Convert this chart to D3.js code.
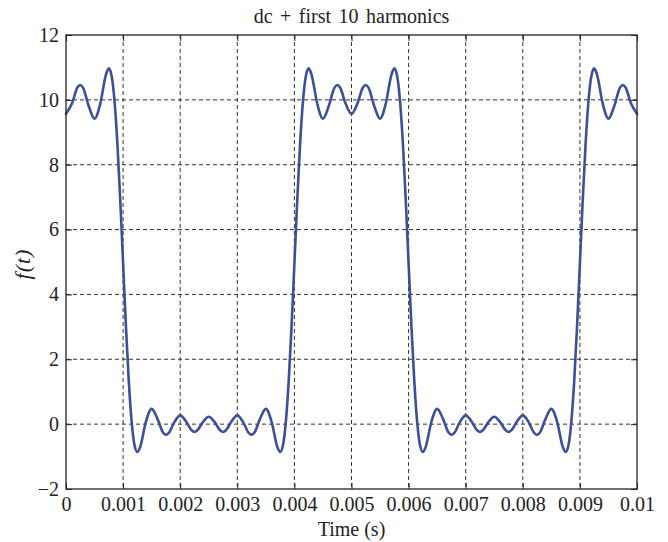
<!DOCTYPE html>
<html>
<head>
<meta charset="utf-8">
<script src="https://cdn.jsdelivr.net/npm/d3@7/dist/d3.min.js"></script>
<style>
  html, body { margin: 0; padding: 0; background: #fff; }
  svg { display: block; }
  text { font-family: "Liberation Serif", "Times New Roman", serif; fill: #222; }
</style>
</head>
<body>
<svg id="chart" width="668" height="542"></svg>
<script>
// ---- data (time in milliseconds, f(t) values) ----
const timeMs = [
  0, 0.1, 0.2, 0.25, 0.3, 0.4, 0.5, 0.6, 0.7, 0.75, 0.8, 0.85, 0.9, 0.95, 1.0, 1.05, 1.1, 1.15, 1.2, 1.25, 1.3, 1.4, 1.5, 1.6, 1.7, 1.75, 1.8, 1.9, 2.0, 2.1, 2.2, 2.25, 2.3, 2.4, 2.5,
  2.6, 2.7, 2.75, 2.8, 2.9, 3.0, 3.1, 3.2, 3.25, 3.3, 3.4, 3.5, 3.6, 3.7, 3.75, 3.8, 3.85, 3.9, 3.95, 4.0, 4.05, 4.1, 4.15, 4.2, 4.25, 4.3, 4.4, 4.5, 4.6, 4.7, 4.75, 4.8, 4.9, 5.0,
  5.1, 5.2, 5.25, 5.3, 5.4, 5.5, 5.6, 5.7, 5.75, 5.8, 5.85, 5.9, 5.95, 6.0, 6.05, 6.1, 6.15, 6.2, 6.25, 6.3, 6.4, 6.5, 6.6, 6.7, 6.75, 6.8, 6.9, 7.0, 7.1, 7.2, 7.25, 7.3, 7.4, 7.5,
  7.6, 7.7, 7.75, 7.8, 7.9, 8.0, 8.1, 8.2, 8.25, 8.3, 8.4, 8.5, 8.6, 8.7, 8.75, 8.8, 8.85, 8.9, 8.95, 9.0, 9.05, 9.1, 9.15, 9.2, 9.25, 9.3, 9.4, 9.5, 9.6, 9.7, 9.75, 9.8, 9.9, 10.0
];
const fValues = [
  9.57, 9.87, 10.38, 10.46, 10.37, 9.80, 9.42, 9.88, 10.78, 10.97, 10.73, 9.96, 8.65, 6.92, 4.95, 3.00, 1.32, 0.07, -0.65, -0.86, -0.70, 0.08, 0.47, 0.17, -0.26, -0.33, -0.27, 0.07, 0.27, 0.09, -0.19, -0.24, -0.19, 0.07, 0.23,
  0.07, -0.19, -0.24, -0.19, 0.09, 0.27, 0.07, -0.27, -0.33, -0.26, 0.17, 0.47, 0.08, -0.70, -0.86, -0.65, 0.07, 1.32, 3.00, 4.95, 6.92, 8.65, 9.96, 10.73, 10.97, 10.78, 9.88, 9.42, 9.80, 10.37, 10.46, 10.38, 9.87, 9.57,
  9.87, 10.38, 10.46, 10.37, 9.80, 9.42, 9.88, 10.78, 10.97, 10.73, 9.96, 8.65, 6.92, 4.95, 3.00, 1.32, 0.07, -0.65, -0.86, -0.70, 0.08, 0.47, 0.17, -0.26, -0.33, -0.27, 0.07, 0.27, 0.09, -0.19, -0.24, -0.19, 0.07, 0.23,
  0.07, -0.19, -0.24, -0.19, 0.09, 0.27, 0.07, -0.27, -0.33, -0.26, 0.17, 0.47, 0.08, -0.70, -0.86, -0.65, 0.07, 1.32, 3.00, 4.95, 6.92, 8.65, 9.96, 10.73, 10.97, 10.78, 9.88, 9.42, 9.80, 10.37, 10.46, 10.38, 9.87, 9.57
];
const xTickValues = [0, 1, 2, 3, 4, 5, 6, 7, 8, 9, 10];
const xTickLabels = ["0", "0.001", "0.002", "0.003", "0.004", "0.005", "0.006", "0.007", "0.008", "0.009", "0.01"];
const yTickValues = [-2, 0, 2, 4, 6, 8, 10, 12];
const yTickLabels = ["\u22122", "0", "2", "4", "6", "8", "10", "12"];
const titleText = "dc + first 10 harmonics";
const xLabelText = "Time (s)";
const yLabelText = "f(t)";

// ---- layout ----
const W = 668, H = 542;
const margin = { top: 35, right: 31, bottom: 53, left: 66 };
const iw = W - margin.left - margin.right;
const ih = H - margin.top - margin.bottom;

const svg = d3.select("#chart");
const g = svg.append("g").attr("transform", `translate(${margin.left},${margin.top})`);

const x = d3.scaleLinear().domain([0, 10]).range([0, iw]);
const y = d3.scaleLinear().domain([-2, 12]).range([ih, 0]);

// grid
const gridColor = "#333";
g.append("g").selectAll("line").data(xTickValues.slice(1, -1)).join("line")
  .attr("x1", d => x(d)).attr("x2", d => x(d))
  .attr("y1", 0).attr("y2", ih)
  .attr("stroke", gridColor).attr("stroke-width", 1).attr("stroke-dasharray", "4,3");
g.append("g").selectAll("line").data(yTickValues.slice(1, -1)).join("line")
  .attr("y1", d => y(d)).attr("y2", d => y(d))
  .attr("x1", 0).attr("x2", iw)
  .attr("stroke", gridColor).attr("stroke-width", 1).attr("stroke-dasharray", "4,3");

// axes (ticks inward)
const xLabelMap = new Map(xTickValues.map((v, i) => [v, xTickLabels[i]]));
const yLabelMap = new Map(yTickValues.map((v, i) => [v, yTickLabels[i]]));

const xAxis = g.append("g").attr("transform", `translate(0,${ih})`)
  .call(d3.axisBottom(x).tickValues(xTickValues).tickFormat(d => xLabelMap.get(d))
    .tickSize(-6).tickSizeOuter(0).tickPadding(8));
const yAxis = g.append("g")
  .call(d3.axisLeft(y).tickValues(yTickValues).tickFormat(d => yLabelMap.get(d))
    .tickSize(-6).tickSizeOuter(0).tickPadding(7));
const xTop = g.append("g")
  .call(d3.axisTop(x).tickValues(xTickValues).tickFormat("").tickSize(-6).tickSizeOuter(0));
const yRight = g.append("g").attr("transform", `translate(${iw},0)`)
  .call(d3.axisRight(y).tickValues(yTickValues).tickFormat("").tickSize(-6).tickSizeOuter(0));

[xAxis, yAxis, xTop, yRight].forEach(a => {
  a.selectAll(".domain").remove();
  a.selectAll(".tick line").attr("stroke", "#222").attr("stroke-width", 1);
  a.selectAll("text").attr("font-size", 20).attr("fill", "#222")
    .style("font-family", '"Liberation Serif", "Times New Roman", serif');
});

// curve
const pts = timeMs.map((t, i) => [t, fValues[i]]);
const line = d3.line().x(d => x(d[0])).y(d => y(d[1])).curve(d3.curveMonotoneX);
g.append("path").datum(pts)
  .attr("d", line).attr("fill", "none")
  .attr("stroke", "#3d4f98").attr("stroke-width", 2.6)
  .attr("stroke-linejoin", "round").attr("stroke-linecap", "round");

// frame
g.append("rect").attr("x", 0).attr("y", 0).attr("width", iw).attr("height", ih)
  .attr("fill", "none").attr("stroke", "#222").attr("stroke-width", 1.3);

// title & labels
svg.append("text").attr("x", margin.left + iw / 2).attr("y", 23)
  .attr("text-anchor", "middle").attr("font-size", 20).style("word-spacing", "2.5px")
  .text(titleText);
svg.append("text").attr("x", margin.left + iw / 2).attr("y", 536)
  .attr("text-anchor", "middle").attr("font-size", 20).text(xLabelText);
svg.append("text")
  .attr("transform", `translate(30,${margin.top + ih / 2 + 2}) rotate(-90)`)
  .attr("text-anchor", "middle").attr("font-size", 22).attr("font-style", "italic")
  .style("letter-spacing", "1px")
  .text(yLabelText);
</script>
</body>
</html>
